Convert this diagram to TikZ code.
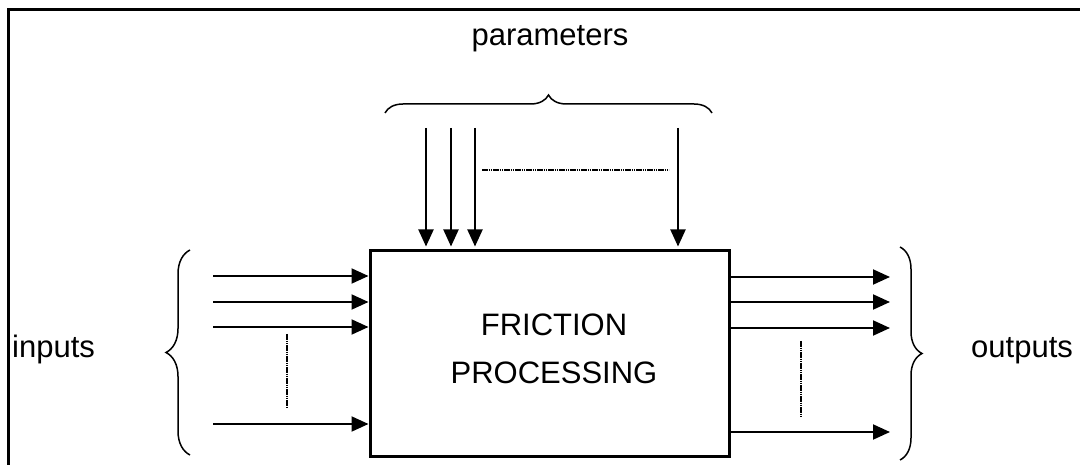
\documentclass[tikz,border=0pt]{standalone}
\usepackage{fontspec}
\setmainfont{Liberation Sans}
\usetikzlibrary{arrows.meta,decorations.pathreplacing}
\begin{document}
\begin{tikzpicture}[x=1pt,y=-1pt,
  txt/.style={font=\fontsize{31}{40}\selectfont, inner sep=0pt},
  arr/.style={line width=2pt, -{Triangle[length=17pt,width=15pt]}},
  dots/.style={line width=2.6pt, dash pattern=on 1.6pt off 0.6pt},
  curly/.style={line width=1.5pt, decorate, decoration={brace, amplitude=18pt}},
  procbox/.style={draw, line width=3pt, minimum width=359pt, minimum height=205pt,
    align=center, font=\fontsize{31}{49}\selectfont, inner sep=0pt}]
\useasboundingbox (0,0) rectangle (1080,465);
\fill[white] (0,0) rectangle (1080,465);
% outer frame (top and left edges)
\draw[line width=3pt] (8.5,465) -- (8.5,10) -- (1080,10);

% central block
\node[procbox] (proc) at (549.5,353.5) {};
\node[txt, anchor=base] (l1) at (554,335) {FRICTION};
\node[txt, anchor=base] (l2) at (554,384) {PROCESSING};

% labels
\node[txt, anchor=base] (par) at (550,46) {parameters};
\node[txt, anchor=base west] (inp) at (12,357) {inputs};
\node[txt, anchor=base west] (outp) at (971,358) {outputs};

% parameter arrows
\foreach \n/\x in {p1/426,p2/451,p3/475,p4/678}{
  \coordinate (\n) at (\x,128);
  \draw[arr, shorten >=3pt] (\n) -- (\n |- proc.north);
}
\coordinate (pd1) at (482,170);
\coordinate (pd2) at (669,170);
\draw[dots] (pd1) -- (pd2);
\draw[curly] (385,113) -- (712,113);

% input arrows
\foreach \n/\y in {i1/276,i2/302,i3/327,i4/424}{
  \coordinate (\n) at (213,\y);
  \draw[arr] (\n) -- (\n -| proc.west);
}
\coordinate (id1) at (287,334);
\coordinate (id2) at (287,408);
\draw[dots] (id1) -- (id2);
\draw[curly, decoration={amplitude=24pt}] (190,455) -- (190,250);

% output arrows
\foreach \n/\y in {o1/277,o2/302,o3/328,o4/432}{
  \coordinate (\n) at (890,\y);
  \draw[arr] (\n -| proc.east) -- (\n);
}
\coordinate (od1) at (801,341);
\coordinate (od2) at (801,417);
\draw[dots] (od1) -- (od2);
\draw[curly, decoration={amplitude=22pt}] (900,247) -- (900,460);
\end{tikzpicture}
\end{document}
